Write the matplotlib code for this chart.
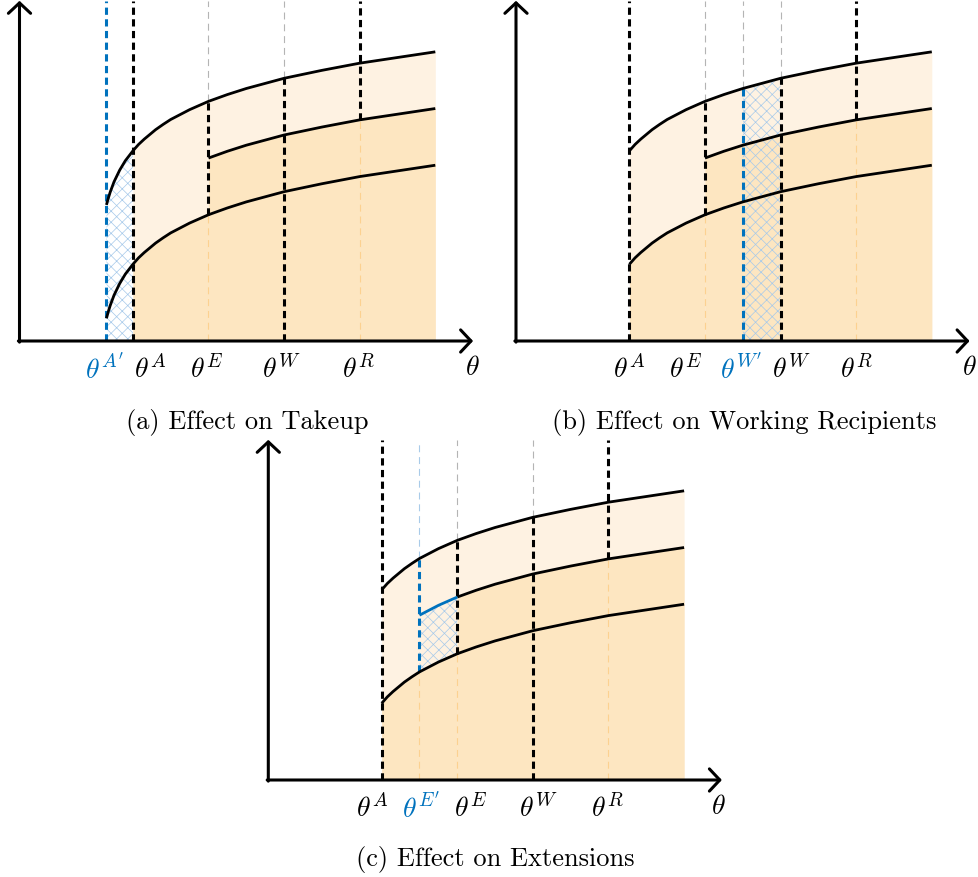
import numpy as np
import matplotlib
matplotlib.use("Agg")
import matplotlib.pyplot as plt

# ---- data (theta units) ----
theta = np.array([2.3, 2.35, 2.4, 2.5, 2.65, 2.8, 2.9, 3.0, 3.15, 3.3, 3.6, 3.8, 4.0,
                  4.5, 5.0, 5.5, 6.0, 7.0, 8.0, 9.0, 10.0, 11.0])
upper = np.array([3.60, 3.78, 3.94, 4.21, 4.52, 4.77, 4.90, 5.03, 5.20, 5.34, 5.59, 5.73, 5.86,
                  6.12, 6.34, 6.52, 6.68, 6.95, 7.16, 7.35, 7.50, 7.65])
middle = np.array([2.10, 2.28, 2.44, 2.71, 3.02, 3.27, 3.40, 3.53, 3.70, 3.84, 4.09, 4.23, 4.36,
                   4.62, 4.84, 5.02, 5.18, 5.45, 5.66, 5.85, 6.00, 6.15])
lower = np.array([0.60, 0.78, 0.94, 1.21, 1.52, 1.77, 1.90, 2.03, 2.20, 2.34, 2.59, 2.73, 2.86,
                  3.12, 3.34, 3.52, 3.68, 3.95, 4.16, 4.35, 4.50, 4.65])

theta_A, theta_E, theta_W, theta_R, theta_end = 3.0, 5.0, 7.0, 9.0, 11.0
theta_A_new, theta_W_new, theta_E_new = 2.3, 6.0, 4.0
captions = ["(a) Effect on Takeup", "(b) Effect on Working Recipients", "(c) Effect on Extensions"]

# ---- styling ----
plt.rcParams["mathtext.fontset"] = "cm"
plt.rcParams["lines.scale_dashes"] = False
plt.rcParams["hatch.linewidth"] = 0.5
BLUE = "#0072BD"
HATCH = "#a6c9ea"
plt.rcParams["hatch.color"] = HATCH
LIGHT = "#FEF2E2"
DARK = "#FDE6C1"
GRAY = "#b4b4b4"
ORANGE_THIN = "#FCD190"
LBLUE_THIN = "#a9cbe9"
TOP = 9.0
LABEL_FS = 20
CAP_FS = 19

S = 37.8
W, H = 979, 878
fig = plt.figure(figsize=(9.79, 8.78), dpi=100)


def make_ax(ox, oy):
    left = ox - 0.5 * S
    bottom_img = oy + 0.5 * S
    ax = fig.add_axes([left / W, (H - bottom_img) / H, 13 * S / W, 9.55 * S / H])
    ax.set_xlim(-0.5, 12.5)
    ax.set_ylim(-0.5, 9.05)
    ax.axis("off")
    return ax


def val(curve, x):
    return float(np.interp(x, theta, curve))


def seg(a, b):
    return (theta >= a - 1e-9) & (theta <= b + 1e-9)


def fills(ax, start):
    m = seg(start, theta_end)
    ax.fill_between(theta[m], 0, upper[m], color=LIGHT, lw=0, zorder=1)
    m = seg(start, theta_E)
    ax.fill_between(theta[m], 0, lower[m], color=DARK, lw=0, zorder=1.1)
    m = seg(theta_E, theta_end)
    ax.fill_between(theta[m], 0, middle[m], color=DARK, lw=0, zorder=1.1)


def hatch(ax, a, b, lo, hi):
    m = seg(a, b)
    y0 = lo[m] if lo is not None else np.zeros(m.sum())
    ax.fill_between(theta[m], y0, hi[m], facecolor="none", edgecolor=HATCH,
                    hatch="xxx", lw=0, zorder=1.5)


def vline(ax, x, y0, y1, kind):
    if kind == "thick":
        ax.plot([x, x], [y0, y1], color="k", lw=2.2, dashes=(5.2, 3.2), zorder=3,
                dash_capstyle="butt")
    elif kind == "blue":
        ax.plot([x, x], [y0, y1], color=BLUE, lw=2.2, dashes=(5.2, 3.2), zorder=3.1,
                dash_capstyle="butt")
    elif kind == "gray":
        ax.plot([x, x], [y0, y1], color=GRAY, lw=0.8, dashes=(5, 3.5), zorder=2)
    elif kind == "orange":
        ax.plot([x, x], [y0, y1], color=ORANGE_THIN, lw=0.8, dashes=(5, 3.5), zorder=2)
    elif kind == "lblue":
        ax.plot([x, x], [y0, y1], color=LBLUE_THIN, lw=0.8, dashes=(5, 3.5), zorder=2)


def curves(ax, start):
    m = seg(start, theta_end)
    ax.plot(theta[m], upper[m], color="k", lw=2.0, zorder=4, solid_capstyle="butt")
    ax.plot(theta[m], lower[m], color="k", lw=2.0, zorder=4, solid_capstyle="butt")
    m = seg(theta_E, theta_end)
    ax.plot(theta[m], middle[m], color="k", lw=2.0, zorder=4, solid_capstyle="butt")


def axes_arrows(ax):
    kw = dict(arrowstyle="->,head_length=0.75,head_width=0.8", lw=2.2, color="k",
              shrinkA=0, shrinkB=0)
    ax.annotate("", xy=(12.0, 0), xytext=(-0.03, 0), arrowprops=kw, zorder=5,
                annotation_clip=False)
    ax.annotate("", xy=(0, 9.0), xytext=(0, -0.03), arrowprops=kw, zorder=5,
                annotation_clip=False)


def label(ax, x, s, color="k"):
    ax.text(x, -0.95, s, ha="center", va="baseline", fontsize=LABEL_FS, color=color)


def axis_label(ax, x):
    ax.text(x, -0.87, r"$\theta$", ha="center", va="baseline", fontsize=LABEL_FS, color="k")


# ---------------- panel (a) ----------------
ax = make_ax(19.5, 342)
fills(ax, theta_A)
hatch(ax, theta_A_new, theta_A, None, upper)
vline(ax, theta_A_new, 0, TOP, "blue")
vline(ax, theta_A, 0, TOP, "thick")
vline(ax, theta_E, val(upper, theta_E), TOP, "gray")
vline(ax, theta_E, val(lower, theta_E), val(upper, theta_E), "thick")
vline(ax, theta_E, 0, val(lower, theta_E), "orange")
vline(ax, theta_W, val(upper, theta_W), TOP, "gray")
vline(ax, theta_W, 0, val(upper, theta_W), "thick")
vline(ax, theta_R, val(middle, theta_R), TOP, "thick")
vline(ax, theta_R, 0, val(middle, theta_R), "orange")
curves(ax, theta_A_new)
axes_arrows(ax)
label(ax, 2.26, r"$\theta^{A'}$", BLUE)
label(ax, 3.45, r"$\theta^{A}$")
label(ax, 4.96, r"$\theta^{E}$")
label(ax, 6.93, r"$\theta^{W}$")
label(ax, 8.98, r"$\theta^{R}$")
axis_label(ax, 11.97)

# ---------------- panel (b) ----------------
ax = make_ax(516, 342)
fills(ax, theta_A)
hatch(ax, theta_W_new, theta_W, None, upper)
vline(ax, theta_A, 0, TOP, "thick")
vline(ax, theta_E, val(upper, theta_E), TOP, "gray")
vline(ax, theta_E, val(lower, theta_E), val(upper, theta_E), "thick")
vline(ax, theta_E, 0, val(lower, theta_E), "orange")
vline(ax, theta_W_new, val(upper, theta_W_new), TOP, "gray")
vline(ax, theta_W_new, 0, val(upper, theta_W_new), "blue")
vline(ax, theta_W, val(upper, theta_W), TOP, "gray")
vline(ax, theta_W, 0, val(upper, theta_W), "thick")
vline(ax, theta_R, val(middle, theta_R), TOP, "thick")
vline(ax, theta_R, 0, val(middle, theta_R), "orange")
curves(ax, theta_A)
axes_arrows(ax)
label(ax, 2.99, r"$\theta^{A}$")
label(ax, 4.50, r"$\theta^{E}$")
label(ax, 5.97, r"$\theta^{W'}$", BLUE)
label(ax, 7.28, r"$\theta^{W}$")
label(ax, 9.0, r"$\theta^{R}$")
axis_label(ax, 12.0)

# ---------------- panel (c) ----------------
ax = make_ax(268.3, 781)
fills(ax, theta_A)
hatch(ax, theta_E_new, theta_E, lower, middle)
vline(ax, theta_A, 0, TOP, "thick")
vline(ax, theta_E_new, val(upper, theta_E_new), TOP, "lblue")
vline(ax, theta_E_new, val(lower, theta_E_new), val(upper, theta_E_new), "blue")
vline(ax, theta_E_new, 0, val(lower, theta_E_new), "orange")
vline(ax, theta_E, val(upper, theta_E), TOP, "gray")
vline(ax, theta_E, val(lower, theta_E), val(upper, theta_E), "thick")
vline(ax, theta_E, 0, val(lower, theta_E), "orange")
vline(ax, theta_W, val(upper, theta_W), TOP, "gray")
vline(ax, theta_W, 0, val(upper, theta_W), "thick")
vline(ax, theta_R, val(middle, theta_R), TOP, "thick")
vline(ax, theta_R, 0, val(middle, theta_R), "orange")
curves(ax, theta_A)
m = seg(theta_E_new, theta_E)
ax.plot(theta[m], middle[m], color=BLUE, lw=2.0, zorder=4.2, solid_capstyle="butt")
axes_arrows(ax)
label(ax, 2.76, r"$\theta^{A}$")
label(ax, 4.04, r"$\theta^{E'}$", BLUE)
label(ax, 5.36, r"$\theta^{E}$")
label(ax, 7.15, r"$\theta^{W}$")
label(ax, 8.97, r"$\theta^{R}$")
axis_label(ax, 11.9)

# ---------------- captions ----------------
fig.text(247 / W, 1 - 422 / H, captions[0], ha="center", va="center",
         fontsize=CAP_FS, family="cmr10")
fig.text(744 / W, 1 - 422 / H, captions[1], ha="center", va="center",
         fontsize=CAP_FS, family="cmr10")
fig.text(495 / W, 1 - 860 / H, captions[2], ha="center", va="center",
         fontsize=CAP_FS, family="cmr10")

fig.savefig("out.png", dpi=100)
